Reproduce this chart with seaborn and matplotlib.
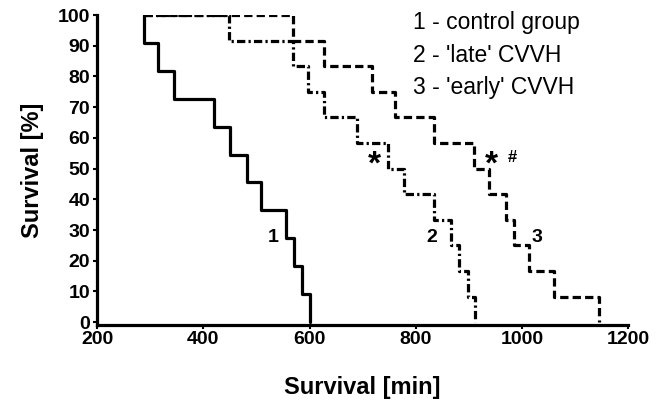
import numpy as np
import pandas as pd
import seaborn as sns
import matplotlib
matplotlib.use("Agg")
import matplotlib.pyplot as plt

# step times (min) and survival (%)
t_control = [288, 288, 314, 345, 420, 450, 482, 509, 555, 570, 585, 600]
s_control = [100, 90.9, 81.8, 72.7, 63.6, 54.5, 45.5, 36.4, 27.3, 18.2, 9.1, 0]

t_late = [288, 449, 568, 598, 628, 690, 747, 777, 835, 867, 882, 899, 912]
s_late = [100, 91.7, 83.3, 75, 66.7, 58.3, 50, 41.7, 33.3, 25, 16.7, 8.3, 0]

t_early = [288, 568, 628, 718, 761, 835, 910, 938, 970, 985, 1013, 1060, 1144]
s_early = [100, 91.7, 83.3, 75, 66.7, 58.3, 50, 41.7, 33.3, 25, 16.7, 8.3, 0]

legend_lines = ["1 - control group", "2 - 'late' CVVH", "3 - 'early' CVVH"]

sns.set_style("ticks")
plt.rcParams['font.family'] = ['Liberation Sans', 'DejaVu Sans']
plt.rcParams.update({"text.color": "black", "axes.labelcolor": "black",
                     "xtick.color": "black", "ytick.color": "black",
                     "axes.edgecolor": "black"})

fig = plt.figure(figsize=(6.6, 4.08), dpi=100)
ax = fig.add_axes([0.147, 0.203, 0.805, 0.76])

lw = 2.3
sns.lineplot(x=t_control, y=s_control, ax=ax, estimator=None, sort=False,
             drawstyle="steps-post", color="black", linewidth=lw, linestyle="-")
sns.lineplot(x=t_late, y=s_late, ax=ax, estimator=None, sort=False,
             drawstyle="steps-post", color="black", linewidth=lw,
             linestyle=(0, (2.6, 1.0, 0.7, 1.0)))
sns.lineplot(x=t_early, y=s_early, ax=ax, estimator=None, sort=False,
             drawstyle="steps-post", color="black", linewidth=lw,
             linestyle=(0, (2.6, 1.3)))

ax.set_xlim(200, 1200)
ax.set_ylim(-1, 100)
ax.set_xticks(np.arange(200, 1201, 200))
ax.set_yticks(np.arange(0, 101, 10))
ax.tick_params(axis="both", labelsize=14, length=3, width=1.5, pad=1)
ax.tick_params(axis="y", pad=2)
for lab in ax.get_xticklabels() + ax.get_yticklabels():
    lab.set_fontweight("bold")
sns.despine(ax=ax)
for s in ["left", "bottom"]:
    ax.spines[s].set_linewidth(2.3)

ax.set_xlabel("Survival [min]", fontsize=17, fontweight="bold", labelpad=20)
ax.set_ylabel("Survival [%]", fontsize=17, fontweight="bold", labelpad=10)

# curve labels and significance marks
ax.text(531, 27.7, "1", fontsize=14, fontweight="bold", ha="center", va="center")
ax.text(830, 27.7, "2", fontsize=14, fontweight="bold", ha="center", va="center")
ax.text(1028, 27.7, "3", fontsize=14, fontweight="bold", ha="center", va="center")
ax.text(722, 51, "*", fontsize=24, fontweight="bold", ha="center", va="center")
ax.text(943, 51, "*", fontsize=24, fontweight="bold", ha="center", va="center")
ax.text(981, 53.5, "#", fontsize=12, fontweight="bold", ha="center", va="center")

for i, txt in enumerate(legend_lines):
    fig.text(0.626, 0.945 - i * 0.08, txt, fontsize=16.5, ha="left", va="center")

fig.savefig("out.png", dpi=100)
